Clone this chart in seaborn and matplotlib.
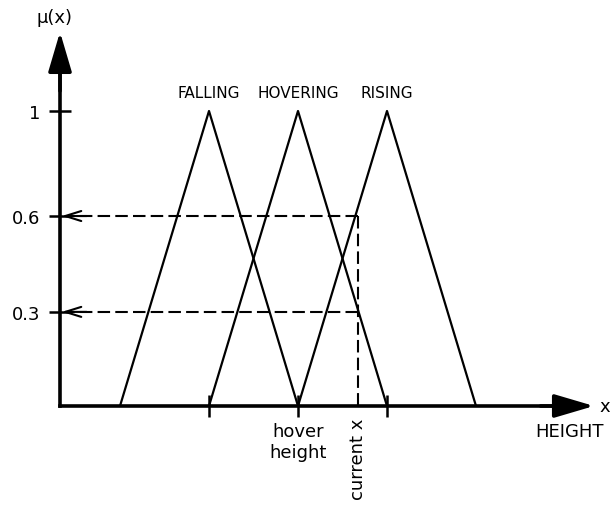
import numpy as np
import pandas as pd
import matplotlib
matplotlib.use("Agg")
import matplotlib.pyplot as plt
import seaborn as sns

sns.set_style("white")
plt.rcParams['font.family'] = ['DejaVu Sans']
plt.rcParams['text.color'] = 'black'

# triangulos de pertenencia (x: altura relativa a hover height)
sets = ['FALLING', 'HOVERING', 'RISING']
falling_x = [-2, -1, 0]
hovering_x = [-1, 0, 1]
rising_x = [0, 1, 2]
mu_shape = [0, 1, 0]

# valor actual y pertenencias leidas
current_x = 0.674
levels = [0.644, 0.319]
level_labels = ['0.6', '0.3']

ytick_pos = [1, 0.644, 0.319]
ytick_labels = ['1', '0.6', '0.3']
xtick_pos = [-1, 0, 1]
xtick_labels = ['', 'hover\nheight', '']

df = pd.DataFrame({
    'x': falling_x + hovering_x + rising_x,
    'mu': mu_shape * 3,
    'set': np.repeat(sets, 3),
})

fig = plt.figure(figsize=(6.11, 5.06), dpi=100)
ax = fig.add_axes([0, 0, 1, 1])

sns.lineplot(data=df, x='x', y='mu', units='set', estimator=None, sort=False,
             color='black', lw=1.6, legend=False, ax=ax)

x0 = -2.674      # posicion del eje vertical
x_tip = 3.326
y_tip = 1.268

ax.set_xlim(-298 / 89, 313 / 89)
ax.set_ylim(-99 / 295, 407 / 295)

# ejes
for s in ['top', 'right']:
    ax.spines[s].set_visible(False)
ax.spines['left'].set_position(('data', x0))
ax.spines['bottom'].set_position(('data', 0))
ax.spines['left'].set_bounds(0, y_tip - 0.05)
ax.spines['bottom'].set_bounds(x0, x_tip - 0.2)
for s in ['left', 'bottom']:
    ax.spines[s].set_linewidth(2.6)
    ax.spines[s].set_color('black')
    ax.spines[s].set_capstyle('projecting')

ax.annotate('', xy=(x0, y_tip), xytext=(x0, y_tip - 0.2),
            arrowprops=dict(arrowstyle='-|>,head_length=1.22,head_width=0.36',
                            mutation_scale=20, lw=2.6, color='black',
                            shrinkA=0, shrinkB=0))
ax.annotate('', xy=(x_tip, 0), xytext=(x_tip - 0.6, 0),
            arrowprops=dict(arrowstyle='-|>,head_length=1.22,head_width=0.36',
                            mutation_scale=20, lw=2.6, color='black',
                            shrinkA=0, shrinkB=0))

ax.set_yticks(ytick_pos, labels=ytick_labels)
ax.set_xticks(xtick_pos, labels=xtick_labels)
ax.tick_params(axis='both', direction='inout', length=15.8, width=1.8,
               labelsize=13, color='black', labelcolor='black',
               bottom=True, left=True)
ax.tick_params(axis='y', pad=6.5)
ax.tick_params(axis='x', pad=3.6)
ax.set_xlabel('')
ax.set_ylabel('')
for t in ax.get_xticklabels():
    t.set_linespacing(1.25)

# lineas punteadas
ax.plot([current_x, current_x], [levels[0], 0], color='black', lw=1.5,
        dashes=(6, 2.5))
for lv in levels:
    ax.plot([current_x, x0 + 0.1], [lv, lv], color='black', lw=1.5,
            dashes=(6, 2.5))
    ax.annotate('', xy=(x0 + 0.02, lv), xytext=(x0 + 0.3, lv),
                arrowprops=dict(arrowstyle='->,head_length=1.15,head_width=0.36',
                                mutation_scale=10, lw=1.5, color='black',
                                shrinkA=0, shrinkB=0))

# textos
peaks = [-1, 0, 1]
for name, p in zip(sets, peaks):
    ax.text(p, 1.064, name, ha='center', va='center', fontsize=11,
            color='black')

ax.text(x0 - 0.06, 1.319, 'μ(x)', ha='center', va='center', fontsize=13)
ax.text(3.045, -0.085, 'HEIGHT', ha='center', va='center', fontsize=13)
ax.text(3.39, 0, 'x', ha='left', va='center', fontsize=13)
ax.text(current_x, -0.041, 'current x', rotation=90, ha='center', va='top',
        fontsize=13)

fig.savefig('out.png', dpi=100)
